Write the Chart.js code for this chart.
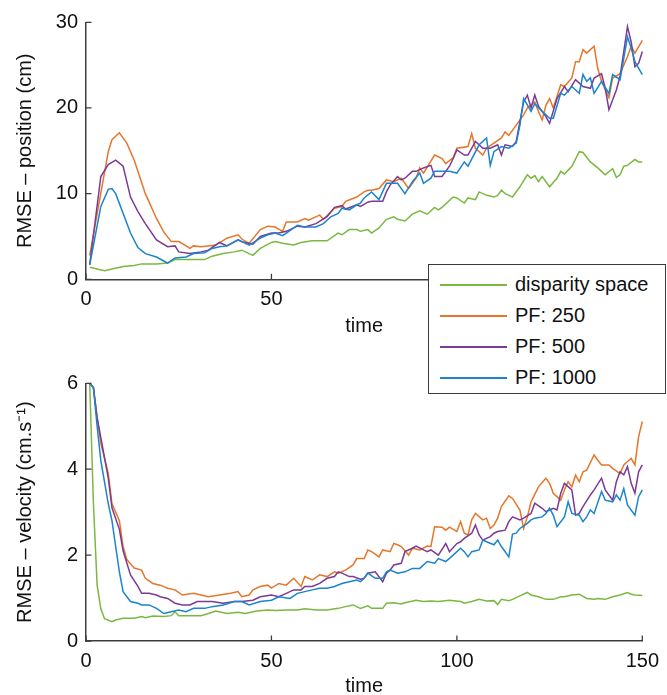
<!DOCTYPE html>
<html>
<head>
<meta charset="utf-8">
<script src="https://cdn.jsdelivr.net/npm/chart.js@4.4.1/dist/chart.umd.min.js"></script>
<style>
  html, body { margin:0; padding:0; background:#fff; }
  body { width:667px; height:695px; overflow:hidden; position:relative; font-family:"Liberation Sans", Arial, sans-serif; }
  #wrapTop { position:absolute; left:0; top:0; width:667px; height:340px; }
  #wrapBot { position:absolute; left:0; top:340px; width:667px; height:360px; }
  #legend { position:absolute; left:428px; top:264px; width:238px; height:130px; box-sizing:border-box;
            border:1.5px solid #3a3a3a; background:#fff; }
  .row { position:absolute; left:0; height:31px; width:100%; }
  .swatch { position:absolute; left:11px; top:15px; width:67px; height:2px; }
  .lbl { position:absolute; left:86px; top:0; line-height:31px; font-size:20px; color:#111; white-space:nowrap; }
</style>
</head>
<body>
<div id="wrapTop"><canvas id="topChart" width="667" height="340"></canvas></div>
<div id="wrapBot"><canvas id="botChart" width="667" height="360"></canvas></div>
<div id="legend"></div>
<script>
// ---- series names / colours ----
const seriesNames = ['disparity space', 'PF: 250', 'PF: 500', 'PF: 1000'];
const seriesColors = ['#7ab840', '#e5762a', '#7b3a94', '#1a84cc'];

// ---- x ticks / y ticks ----
const timeTicks = [0, 50, 100, 150];
const posTicks = [0, 10, 20, 30];
const velTicks = [0, 2, 4, 6];

// ---- RMSE position (cm): [time, value] ----
const posGreen = [[1,1.4],[3,1.2],[5,1.0],[7,1.2],[10,1.5],[13,1.6],[15,1.8],[19,1.8],[22,1.9],[24,2.3],[27,2.3],[30,2.3],[32,2.3],[34,2.7],[37,3.0],[40,3.2],[42,3.4],[45,2.8],[47,3.6],[50,4.3],[51,4.4],[53,4.2],[56,4.0],[58,4.3],[61,4.5],[65,4.5],[68,5.4],[69,5.2],[71,5.8],[73,5.8],[74,5.6],[76,5.8],[77,5.4],[79,6.0],[81,7.0],[83,7.3],[84,7.0],[86,6.8],[88,7.6],[90,8.0],[92,7.6],[94,8.4],[95,8.1],[96,8.4],[99,9.6],[100,9.5],[102,8.9],[103,9.5],[105,9.3],[106,10.2],[108,9.8],[110,9.6],[111,9.8],[112,10.4],[113,10.0],[115,9.6],[117,10.8],[119,12.2],[120,11.8],[121,12.1],[122,11.4],[123,12.0],[125,10.8],[127,11.8],[128,12.6],[129,12.3],[131,13.2],[133,14.9],[134,14.8],[136,13.7],[138,13.0],[139,12.6],[140,12.2],[142,12.9],[143,11.9],[144,12.2],[145,13.2],[146,13.3],[148,14.0],[149,13.7],[150,13.7]];
const posOrange = [[1,2.8],[6,14.9],[7,16.3],[9,17.1],[11,15.9],[13,13.9],[16,10.0],[19,7.1],[21,5.5],[23,4.4],[25,4.4],[27,3.9],[28,3.6],[29,3.9],[31,3.8],[33,3.9],[35,4.0],[38,4.8],[41,5.2],[42,4.7],[44,4.2],[47,5.8],[49,6.2],[51,6.1],[53,5.6],[54,6.7],[57,6.7],[59,7.1],[60,6.9],[63,7.5],[64,7.0],[67,8.3],[69,8.5],[70,9.1],[73,9.6],[75,10.2],[76,10.4],[77,10.4],[79,10.6],[81,11.6],[83,11.4],[85,11.8],[87,10.6],[89,11.8],[90,13.0],[91,12.4],[94,14.5],[96,14.1],[97,13.5],[99,14.2],[100,15.3],[103,15.5],[104,17.0],[105,15.3],[107,14.5],[108,15.3],[110,15.9],[112,16.5],[113,17.2],[114,16.8],[116,18.0],[118,19.2],[119,20.0],[121,20.7],[122,19.6],[123,18.6],[124,20.3],[125,21.1],[126,20.0],[128,22.7],[129,22.5],[131,23.5],[132,25.4],[133,25.4],[134,26.8],[135,26.4],[137,27.2],[138,24.6],[139,23.1],[141,21.2],[142,23.5],[144,24.0],[146,26.0],[147,27.2],[148,26.4],[150,27.9]];
const posPurple = [[1,1.7],[4,12.0],[6,13.4],[8,13.9],[10,13.2],[12,9.6],[14,7.9],[16,6.5],[19,4.6],[22,3.8],[24,3.9],[25,3.2],[28,3.0],[31,3.2],[33,3.4],[36,4.3],[38,3.9],[41,4.6],[42,4.4],[45,4.1],[47,5.0],[50,5.4],[52,5.4],[54,5.6],[57,6.2],[59,6.1],[62,6.5],[65,7.3],[67,8.4],[69,8.6],[70,8.2],[73,8.7],[74,8.5],[76,9.0],[77,9.1],[80,9.1],[81,10.2],[82,11.0],[84,12.0],[85,11.6],[86,11.8],[88,12.6],[89,12.6],[91,13.0],[93,13.3],[94,12.0],[96,12.0],[98,13.2],[99,14.1],[100,15.1],[102,14.5],[103,14.5],[105,16.1],[107,15.3],[109,15.3],[111,15.7],[112,14.5],[113,15.7],[115,15.5],[116,16.1],[118,20.7],[119,21.5],[120,20.0],[121,21.5],[122,20.2],[124,19.0],[125,18.2],[127,21.1],[129,22.5],[130,21.9],[132,23.3],[134,22.5],[136,22.3],[137,23.5],[139,24.0],[140,22.3],[141,19.8],[143,22.1],[144,23.7],[146,29.5],[147,27.7],[148,24.8],[149,25.2],[150,26.6]];
const posBlue = [[1,1.7],[4,8.5],[6,10.5],[7,10.6],[8,10.0],[10,7.7],[12,5.4],[14,3.7],[16,3.0],[19,2.6],[22,1.9],[24,2.5],[27,2.6],[29,3.0],[32,3.1],[34,3.6],[36,3.8],[38,3.9],[41,4.6],[42,4.4],[44,4.0],[47,4.8],[49,5.2],[51,5.4],[53,5.1],[54,5.4],[57,6.3],[59,6.1],[62,6.1],[64,6.5],[66,7.3],[68,7.7],[69,8.3],[71,8.1],[73,8.7],[74,8.9],[75,9.5],[77,10.2],[79,9.3],[81,11.2],[82,11.2],[84,11.2],[86,10.0],[88,11.4],[90,12.4],[91,11.2],[93,11.8],[94,12.6],[96,12.6],[98,12.6],[100,12.4],[102,13.7],[103,13.2],[106,15.7],[108,16.5],[109,13.3],[110,14.9],[112,15.5],[114,15.3],[116,15.9],[117,18.0],[118,21.1],[120,19.6],[121,20.5],[123,19.6],[125,18.8],[126,18.8],[128,21.7],[129,21.5],[131,22.5],[133,21.7],[134,23.9],[135,23.1],[136,23.5],[137,21.7],[139,23.1],[141,21.7],[142,23.9],[144,23.3],[146,28.3],[147,27.0],[148,25.4],[150,23.9]];

// ---- RMSE velocity (cm.s^-1): [time, value] ----
const velGreen = [[1,6.0],[2,3.2],[3,1.3],[4,0.75],[5,0.52],[7,0.45],[8,0.49],[10,0.53],[13,0.53],[15,0.57],[16,0.54],[18,0.58],[21,0.57],[23,0.59],[24,0.68],[25,0.59],[28,0.59],[31,0.59],[33,0.64],[35,0.70],[38,0.64],[41,0.67],[43,0.64],[46,0.70],[49,0.72],[51,0.71],[54,0.72],[57,0.72],[59,0.75],[62,0.72],[65,0.72],[68,0.76],[70,0.80],[72,0.84],[74,0.76],[76,0.82],[77,0.76],[80,0.76],[81,0.88],[83,0.89],[85,0.86],[86,0.89],[89,0.95],[91,0.92],[93,0.93],[95,0.92],[98,0.95],[101,0.92],[102,0.88],[104,0.92],[106,0.97],[108,0.93],[110,0.94],[111,0.85],[112,0.97],[114,0.94],[115,0.97],[117,1.05],[119,1.13],[120,1.07],[122,1.03],[124,0.97],[126,0.97],[128,1.03],[129,1.03],[131,1.07],[133,1.09],[135,0.99],[137,0.97],[138,0.99],[140,0.97],[142,1.03],[144,1.07],[146,1.13],[147,1.09],[148,1.07],[150,1.06]];
const velOrange = [[1,6.0],[2,5.9],[3,5.2],[4,4.6],[6,3.9],[7,3.2],[9,2.8],[10,2.2],[11,1.9],[13,1.7],[15,1.65],[16,1.46],[18,1.34],[20,1.30],[22,1.23],[24,1.19],[26,1.07],[29,1.11],[31,1.07],[33,1.03],[36,1.07],[39,1.11],[41,1.15],[42,1.03],[44,1.07],[45,1.19],[47,1.27],[49,1.30],[50,1.23],[52,1.34],[54,1.30],[56,1.46],[58,1.27],[59,1.50],[61,1.42],[63,1.54],[65,1.50],[67,1.61],[68,1.58],[70,1.65],[72,1.77],[73,1.92],[75,1.92],[76,2.12],[77,2.08],[79,1.96],[80,2.12],[82,2.08],[83,2.27],[84,2.24],[85,2.20],[87,2.00],[88,2.16],[90,2.12],[92,2.21],[93,2.20],[94,2.66],[96,2.65],[97,2.58],[98,2.65],[100,2.55],[101,2.78],[102,2.51],[103,2.47],[104,2.82],[105,2.97],[107,2.82],[108,2.86],[109,2.62],[110,2.70],[111,2.86],[112,3.13],[114,3.38],[115,3.32],[117,3.05],[118,2.62],[119,2.89],[120,3.24],[122,3.59],[124,3.79],[125,3.67],[126,3.44],[128,3.28],[129,3.52],[130,3.71],[131,3.59],[132,3.86],[133,3.71],[134,3.94],[135,3.98],[137,4.33],[138,4.21],[139,4.10],[141,4.10],[142,4.02],[144,3.90],[145,4.10],[146,4.18],[147,4.25],[148,4.10],[149,4.76],[150,5.11]];
const velPurple = [[1,6.0],[2,5.9],[3,5.2],[6,3.8],[7,3.1],[9,2.6],[10,2.1],[12,1.54],[14,1.27],[15,1.11],[17,1.11],[19,1.07],[20,1.03],[22,0.99],[24,0.88],[26,0.84],[28,0.84],[30,0.92],[32,0.92],[34,0.92],[37,0.88],[40,0.92],[42,0.92],[45,0.95],[47,1.03],[50,1.07],[52,1.03],[54,1.11],[56,1.19],[58,1.19],[59,1.27],[61,1.27],[63,1.34],[65,1.46],[67,1.50],[68,1.61],[69,1.58],[71,1.50],[72,1.50],[74,1.44],[75,1.46],[76,1.58],[78,1.61],[80,1.38],[81,1.58],[82,1.65],[83,1.77],[85,1.81],[86,2.08],[88,2.16],[89,2.21],[91,2.12],[92,2.08],[93,2.12],[95,2.00],[97,2.27],[98,2.08],[100,2.27],[101,2.31],[102,2.39],[104,2.51],[105,2.70],[106,2.47],[107,2.35],[109,2.43],[110,2.51],[111,2.55],[113,2.58],[114,2.78],[115,2.89],[117,2.82],[118,2.86],[120,2.97],[121,3.21],[123,3.09],[124,3.01],[126,3.09],[127,3.05],[128,3.44],[129,3.67],[131,3.52],[132,2.93],[133,2.97],[134,3.13],[136,3.40],[137,3.52],[139,3.79],[140,3.52],[142,3.28],[143,3.71],[144,3.94],[145,3.87],[146,4.06],[147,3.67],[148,3.44],[149,3.94],[150,4.10]];
const velBlue = [[1,6.0],[2,5.9],[3,5.0],[4,4.2],[6,3.2],[7,2.8],[8,2.2],[9,1.61],[10,1.15],[12,0.92],[14,0.88],[15,0.84],[17,0.84],[19,0.76],[21,0.64],[23,0.68],[25,0.72],[27,0.68],[29,0.76],[32,0.76],[34,0.80],[37,0.84],[40,0.92],[42,0.92],[44,0.84],[47,0.92],[50,0.95],[52,1.03],[55,0.99],[57,1.11],[59,1.15],[61,1.19],[63,1.23],[65,1.23],[67,1.27],[69,1.34],[71,1.38],[73,1.42],[74,1.38],[75,1.46],[76,1.58],[78,1.46],[80,1.46],[81,1.61],[82,1.65],[84,1.58],[86,1.61],[88,1.69],[90,1.69],[92,1.85],[94,1.81],[95,1.92],[97,1.85],[99,2.00],[101,2.16],[102,2.08],[103,1.96],[104,2.08],[106,2.12],[107,2.35],[108,2.31],[110,2.24],[111,2.35],[112,2.20],[114,1.96],[115,2.49],[116,2.51],[117,2.62],[119,2.74],[120,2.82],[121,2.86],[123,2.89],[124,2.97],[125,3.09],[126,2.93],[127,2.66],[129,2.89],[130,3.24],[131,2.97],[133,2.93],[134,2.78],[135,2.89],[136,3.05],[137,2.97],[139,3.48],[140,3.28],[142,3.24],[143,3.40],[144,3.28],[145,3.55],[146,3.17],[148,2.93],[149,3.36],[150,3.52]];

// ---- rendering ----
const FONT = '"Liberation Sans", Arial, sans-serif';
const AXIS = '#3d3d3d';
const TXT = '#111';

function toXY(arr) { return arr.map(p => ({ x: p[0], y: p[1] })); }

const innerTicks = {
  id: 'innerTicks',
  afterDatasetsDraw(chart) {
    const { ctx, chartArea, scales } = chart;
    ctx.save();
    ctx.strokeStyle = AXIS;
    ctx.lineWidth = 1.3;
    ctx.beginPath();
    scales.x.ticks.forEach(t => {
      const px = scales.x.getPixelForValue(t.value);
      ctx.moveTo(px, chartArea.bottom);
      ctx.lineTo(px, chartArea.bottom - 5.5);
    });
    scales.y.ticks.forEach(t => {
      const py = scales.y.getPixelForValue(t.value);
      ctx.moveTo(chartArea.left, py);
      ctx.lineTo(chartArea.left + 5.5, py);
    });
    ctx.stroke();
    ctx.restore();
  }
};

function makeChart(canvasId, series, yMax, yTicks, yTitle, padTop, xHeight) {
  const datasets = series.map((s, i) => ({
    label: seriesNames[i],
    data: toXY(s),
    borderColor: seriesColors[i],
    backgroundColor: seriesColors[i],
    borderWidth: 1.5,
    pointRadius: 0,
    tension: 0,
    fill: false,
    clip: 4,
    order: series.length - i
  }));
  return new Chart(document.getElementById(canvasId), {
    type: 'line',
    data: { datasets },
    plugins: [innerTicks],
    options: {
      responsive: false,
      animation: false,
      devicePixelRatio: 1,
      layout: { padding: { left: 0, right: 24.5, top: padTop, bottom: 0 } },
      plugins: { legend: { display: false }, tooltip: { enabled: false } },
      scales: {
        x: {
          type: 'linear',
          min: timeTicks[0], max: timeTicks[timeTicks.length - 1],
          afterBuildTicks: sc => { sc.ticks = timeTicks.map(v => ({ value: v })); },
          afterFit: sc => { sc.height = xHeight; },
          grid: { display: false, drawTicks: false },
          border: { display: true, color: AXIS, width: 1.5 },
          ticks: { color: TXT, font: { family: FONT, size: 20 }, padding: 8, maxRotation: 0 },
          title: { display: true, text: 'time', color: TXT, font: { family: FONT, size: 20 }, padding: { top: 0, bottom: 2 } }
        },
        y: {
          type: 'linear',
          min: 0, max: yMax,
          afterBuildTicks: sc => { sc.ticks = yTicks.map(v => ({ value: v })); },
          afterFit: sc => { sc.width = 86; },
          grid: { display: false, drawTicks: false },
          border: { display: true, color: AXIS, width: 1.5 },
          ticks: { color: TXT, font: { family: FONT, size: 20 }, padding: 8 },
          title: { display: true, text: yTitle, color: TXT, font: { family: FONT, size: 20 }, padding: { top: 13, bottom: 0 } }
        }
      }
    }
  });
}

makeChart('topChart', [posGreen, posOrange, posPurple, posBlue], 30, posTicks,
  'RMSE \u2013 position (cm)', 22.3, 340 - 279.3);
makeChart('botChart', [velGreen, velOrange, velPurple, velBlue], 6, velTicks,
  'RMSE \u2013 velocity (cm.s\u207B\u00B9)', 43.3, 360 - 301);

// HTML legend (overlaps both panels like the reference)
const legend = document.getElementById('legend');
seriesNames.forEach((name, i) => {
  const row = document.createElement('div');
  row.className = 'row';
  row.style.top = (3.5 + 31 * i) + 'px';
  const sw = document.createElement('div');
  sw.className = 'swatch';
  sw.style.backgroundColor = seriesColors[i];
  const lb = document.createElement('div');
  lb.className = 'lbl';
  lb.textContent = name;
  row.appendChild(sw); row.appendChild(lb);
  legend.appendChild(row);
});
</script>
</body>
</html>
